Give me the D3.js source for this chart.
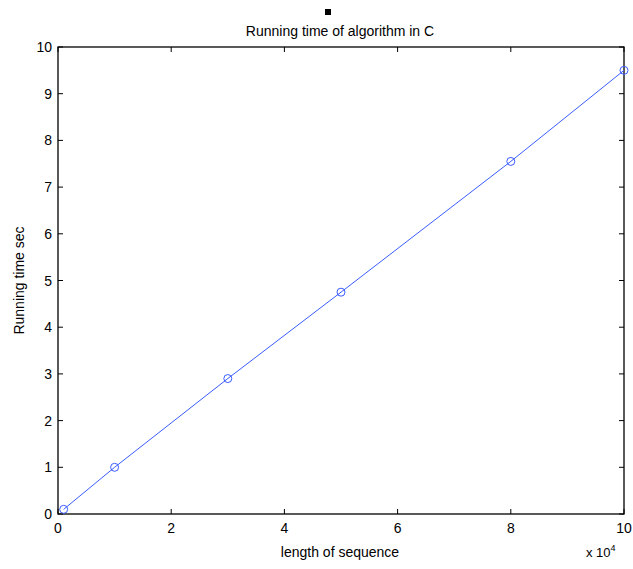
<!DOCTYPE html>
<html>
<head>
<meta charset="utf-8">
<script src="https://cdn.jsdelivr.net/npm/d3@7"></script>
<style>
  body { margin: 0; background: #fff; }
  text { font-family: "Liberation Sans Narrow", "Liberation Sans", Arial, sans-serif; fill: #000; }
</style>
</head>
<body>
<div id="chart"></div>
<script>
// datos del grafico
const lengths = [1000, 10000, 30000, 50000, 80000, 100000];
const times = [0.1, 1.0, 2.9, 4.75, 7.55, 9.5];
const xTicks = [0, 2, 4, 6, 8, 10];
const yTicks = [0, 1, 2, 3, 4, 5, 6, 7, 8, 9, 10];

const W = 633, H = 569;
const margin = {top: 47, right: 9, bottom: 55, left: 58};
const width = W - margin.left - margin.right;
const height = H - margin.top - margin.bottom;

const svg = d3.select("#chart").append("svg")
    .attr("width", W).attr("height", H);

const g = svg.append("g")
    .attr("transform", "translate(" + margin.left + "," + margin.top + ")");

const x = d3.scaleLinear().domain([0, 100000]).range([0, width]);
const y = d3.scaleLinear().domain([0, 10]).range([height, 0]);

// caja de ejes
g.append("rect")
    .attr("width", width).attr("height", height)
    .attr("fill", "none").attr("stroke", "#000").attr("stroke-width", 1.3);

const tl = 5;
// ticks hacia adentro, en los cuatro lados
xTicks.forEach(t => {
    const px = x(t * 10000);
    g.append("line").attr("x1", px).attr("x2", px).attr("y1", height).attr("y2", height - tl).attr("stroke", "#000");
    g.append("line").attr("x1", px).attr("x2", px).attr("y1", 0).attr("y2", tl).attr("stroke", "#000");
    g.append("text").attr("x", px).attr("y", height + 19)
        .attr("text-anchor", "middle").style("font-size", "14px").text(t);
});
yTicks.forEach(t => {
    const py = y(t);
    g.append("line").attr("x1", 0).attr("x2", tl).attr("y1", py).attr("y2", py).attr("stroke", "#000");
    g.append("line").attr("x1", width).attr("x2", width - tl).attr("y1", py).attr("y2", py).attr("stroke", "#000");
    g.append("text").attr("x", -6).attr("y", py + 5)
        .attr("text-anchor", "end").style("font-size", "14px").text(t);
});

// linea y marcadores
const pts = lengths.map((d, i) => [d, times[i]]);
g.append("path")
    .datum(pts)
    .attr("fill", "none")
    .attr("stroke", "#3a5cff")
    .attr("stroke-width", 1)
    .attr("d", d3.line().x(d => x(d[0])).y(d => y(d[1])));

g.selectAll(".mk").data(pts).enter().append("circle")
    .attr("class", "mk")
    .attr("cx", d => x(d[0])).attr("cy", d => y(d[1]))
    .attr("r", 4)
    .attr("fill", "none").attr("stroke", "#3a5cff").attr("stroke-width", 1);

// textos
svg.append("rect").attr("x", 325).attr("y", 9).attr("width", 6).attr("height", 6).attr("fill", "#000");
svg.append("text").attr("x", 340).attr("y", 36).attr("text-anchor", "middle")
    .style("font-size", "14px").text("Running time of algorithm in C");
svg.append("text").attr("x", 340).attr("y", 557).attr("text-anchor", "middle")
    .style("font-size", "14px").text("length of sequence");
svg.append("text")
    .attr("transform", "translate(24," + (margin.top + height / 2) + ") rotate(-90)")
    .attr("text-anchor", "middle").style("font-size", "14px").text("Running time sec");

const ex = svg.append("text").attr("x", 586).attr("y", 557).style("font-size", "13px");
ex.append("tspan").text("x 10");
ex.append("tspan").attr("dy", -6).style("font-size", "9px").text("4");
</script>
</body>
</html>
